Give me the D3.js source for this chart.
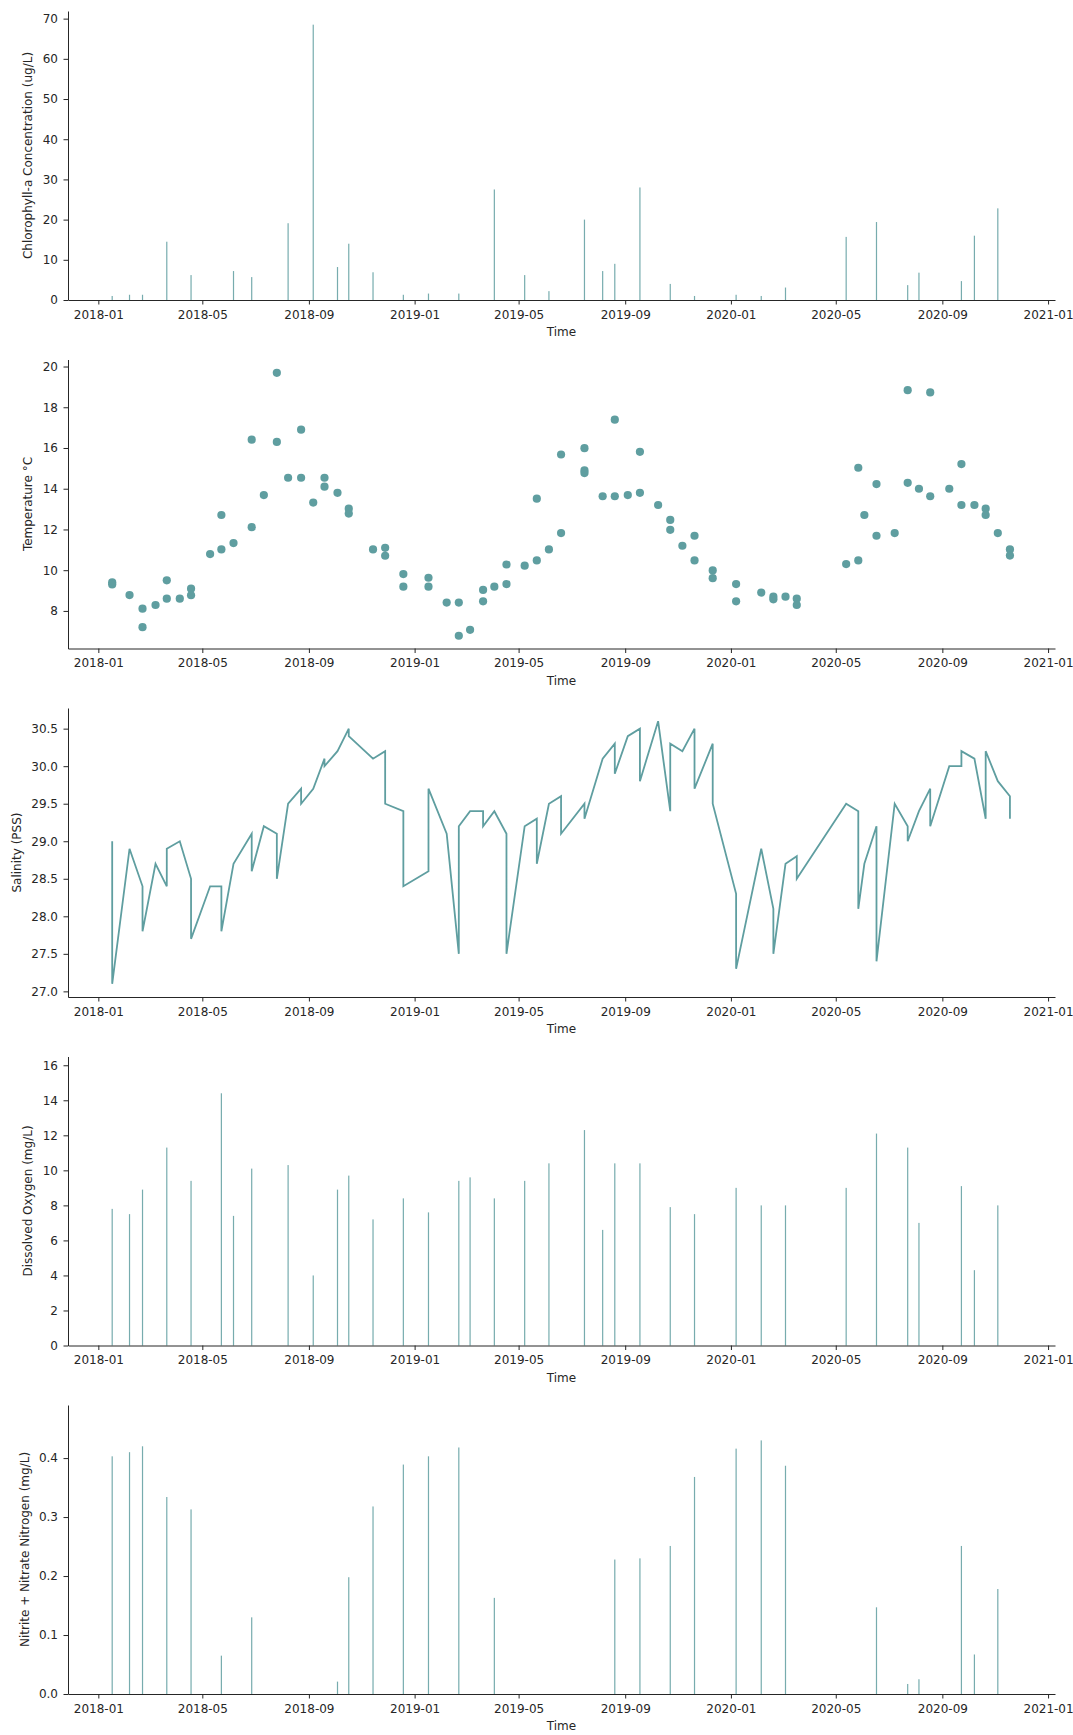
<!DOCTYPE html>
<html>
<head>
<meta charset="utf-8">
<script src="https://cdn.jsdelivr.net/npm/d3@7"></script>
<style>
  html, body { margin: 0; padding: 0; background: #fff; }
  svg { display: block; font-family: "DejaVu Sans", sans-serif; }
</style>
</head>
<body>
<svg id="chart" width="1073" height="1735"></svg>
<script>
// Water-quality monitoring series, 2018-2020

const chlDates = ["2018-01-17","2018-02-06","2018-02-21","2018-03-21","2018-04-18","2018-06-06","2018-06-27","2018-08-08","2018-09-06","2018-10-04","2018-10-17","2018-11-14","2018-12-19","2019-01-17","2019-02-21","2019-04-03","2019-05-08","2019-06-05","2019-07-16","2019-08-06","2019-08-20","2019-09-18","2019-10-23","2019-11-20","2020-01-07","2020-02-05","2020-03-04","2020-05-13","2020-06-17","2020-07-23","2020-08-05","2020-09-23","2020-10-08","2020-11-04"];
const chlValues = [1.0,1.3,1.3,14.5,6.2,7.2,5.7,19.1,68.5,8.2,14.0,6.9,1.3,1.6,1.6,27.5,6.2,2.2,20.0,7.2,9.0,28.0,4.0,1.0,1.3,1.0,3.1,15.7,19.4,3.7,6.8,4.7,16.0,22.8];

const tempDates = ["2018-01-17","2018-01-17","2018-02-06","2018-02-21","2018-02-21","2018-03-08","2018-03-21","2018-03-21","2018-04-05","2018-04-18","2018-04-18","2018-05-10","2018-05-23","2018-05-23","2018-06-06","2018-06-27","2018-06-27","2018-07-11","2018-07-26","2018-07-26","2018-08-08","2018-08-23","2018-08-23","2018-09-06","2018-09-19","2018-09-19","2018-10-04","2018-10-17","2018-10-17","2018-11-14","2018-11-28","2018-11-28","2018-12-19","2018-12-19","2019-01-17","2019-01-17","2019-02-07","2019-02-21","2019-02-21","2019-03-06","2019-03-21","2019-03-21","2019-04-03","2019-04-17","2019-04-17","2019-05-08","2019-05-22","2019-05-22","2019-06-05","2019-06-19","2019-06-19","2019-07-16","2019-07-16","2019-07-16","2019-08-06","2019-08-20","2019-08-20","2019-09-04","2019-09-18","2019-09-18","2019-10-09","2019-10-23","2019-10-23","2019-11-06","2019-11-20","2019-11-20","2019-12-11","2019-12-11","2020-01-07","2020-01-07","2020-02-05","2020-02-19","2020-02-19","2020-03-04","2020-03-17","2020-03-17","2020-05-13","2020-05-27","2020-05-27","2020-06-03","2020-06-17","2020-06-17","2020-07-08","2020-07-23","2020-07-23","2020-08-05","2020-08-18","2020-08-18","2020-09-09","2020-09-23","2020-09-23","2020-10-08","2020-10-21","2020-10-21","2020-11-04","2020-11-18","2020-11-18"];
const tempValues = [9.4,9.3,8.78,8.11,7.2,8.29,9.5,8.6,8.6,9.09,8.77,10.79,12.71,11.02,11.33,16.41,12.11,13.69,19.69,16.3,14.54,16.9,14.54,13.32,14.54,14.1,13.8,13.02,12.78,11.02,11.1,10.71,9.81,9.19,9.63,9.19,8.41,8.41,6.78,7.07,9.03,8.47,9.19,10.28,9.32,10.22,13.51,10.48,11.02,15.68,11.82,15.99,14.9,14.77,13.63,17.39,13.63,13.69,15.81,13.8,13.2,12.47,11.98,11.2,11.69,10.48,9.99,9.61,9.32,8.47,8.9,8.7,8.57,8.7,8.6,8.29,10.3,15.03,10.48,12.71,14.23,11.69,11.82,18.84,14.29,14.0,18.73,13.63,14.0,15.21,13.2,13.2,13.02,12.71,11.82,11.02,10.72];

const salDates = ["2018-01-17","2018-01-17","2018-02-06","2018-02-21","2018-02-21","2018-03-08","2018-03-21","2018-03-21","2018-04-05","2018-04-18","2018-04-18","2018-05-10","2018-05-23","2018-05-23","2018-06-06","2018-06-27","2018-06-27","2018-07-11","2018-07-26","2018-07-26","2018-08-08","2018-08-23","2018-08-23","2018-09-06","2018-09-19","2018-09-19","2018-10-04","2018-10-17","2018-10-17","2018-11-14","2018-11-28","2018-11-28","2018-12-19","2018-12-19","2019-01-17","2019-01-17","2019-02-07","2019-02-21","2019-02-21","2019-03-06","2019-03-21","2019-03-21","2019-04-03","2019-04-17","2019-04-17","2019-05-08","2019-05-22","2019-05-22","2019-06-05","2019-06-19","2019-06-19","2019-07-16","2019-07-16","2019-08-06","2019-08-20","2019-08-20","2019-09-04","2019-09-18","2019-09-18","2019-10-09","2019-10-23","2019-10-23","2019-11-06","2019-11-20","2019-11-20","2019-12-11","2019-12-11","2020-01-07","2020-01-07","2020-02-05","2020-02-19","2020-02-19","2020-03-04","2020-03-17","2020-03-17","2020-05-13","2020-05-27","2020-05-27","2020-06-03","2020-06-17","2020-06-17","2020-07-08","2020-07-23","2020-07-23","2020-08-05","2020-08-18","2020-08-18","2020-09-09","2020-09-23","2020-09-23","2020-10-08","2020-10-21","2020-10-21","2020-11-04","2020-11-18","2020-11-18"];
const salValues = [29.0,27.1,28.9,28.4,27.8,28.7,28.4,28.9,29.0,28.5,27.7,28.4,28.4,27.8,28.7,29.1,28.6,29.2,29.1,28.5,29.5,29.7,29.5,29.7,30.1,30.0,30.2,30.5,30.4,30.1,30.2,29.5,29.4,28.4,28.6,29.7,29.1,27.5,29.2,29.4,29.4,29.2,29.4,29.1,27.5,29.2,29.3,28.7,29.5,29.6,29.1,29.5,29.3,30.1,30.3,29.9,30.4,30.5,29.8,30.6,29.4,30.3,30.2,30.5,29.7,30.3,29.5,28.3,27.3,28.9,28.1,27.5,28.7,28.8,28.5,29.5,29.4,28.1,28.7,29.2,27.4,29.5,29.2,29.0,29.4,29.7,29.2,30.0,30.0,30.2,30.1,29.3,30.2,29.8,29.6,29.3];

const doDates = ["2018-01-17","2018-02-06","2018-02-21","2018-03-21","2018-04-18","2018-05-23","2018-06-06","2018-06-27","2018-08-08","2018-09-06","2018-10-04","2018-10-17","2018-11-14","2018-12-19","2019-01-17","2019-02-21","2019-03-06","2019-04-03","2019-05-08","2019-06-05","2019-07-16","2019-08-06","2019-08-20","2019-09-18","2019-10-23","2019-11-20","2020-01-07","2020-02-05","2020-03-04","2020-05-13","2020-06-17","2020-07-23","2020-08-05","2020-09-23","2020-10-08","2020-11-04"];
const doValues = [7.8,7.5,8.9,11.3,9.4,14.4,7.4,10.1,10.3,4.0,8.9,9.7,7.2,8.4,7.6,9.4,9.6,8.4,9.4,10.4,12.3,6.6,10.4,10.4,7.9,7.5,9.0,8.0,8.0,9.0,12.1,11.3,7.0,9.1,4.3,8.0];

const no3Dates = ["2018-01-17","2018-02-06","2018-02-21","2018-03-21","2018-04-18","2018-05-23","2018-06-27","2018-10-04","2018-10-17","2018-11-14","2018-12-19","2019-01-17","2019-02-21","2019-04-03","2019-08-20","2019-09-18","2019-10-23","2019-11-20","2020-01-07","2020-02-05","2020-03-04","2020-06-17","2020-07-23","2020-08-05","2020-09-23","2020-10-08","2020-11-04"];
const no3Values = [0.403,0.410,0.420,0.334,0.313,0.065,0.130,0.021,0.198,0.318,0.389,0.403,0.418,0.163,0.228,0.230,0.251,0.368,0.416,0.430,0.387,0.147,0.017,0.025,0.251,0.067,0.178];

// Axis settings
const timeDomain = ["2017-11-27", "2021-01-09"];
const yLabels = ["Chlorophyll-a Concentration (ug/L)", "Temperature °C", "Salinity (PSS)", "Dissolved Oxygen (mg/L)", "Nitrite + Nitrate Nitrogen (mg/L)"];
const yDomains = [[0, 71.9], [6.155, 20.345], [26.925, 30.775], [0, 16.5], [0, 0.49]];
const yTicks = [[0,10,20,30,40,50,60,70], [8,10,12,14,16,18,20], [27.0,27.5,28.0,28.5,29.0,29.5,30.0,30.5], [0,2,4,6,8,10,12,14,16], [0.0,0.1,0.2,0.3,0.4]];
const yFormats = ["d", "d", ".1f", "d", ".1f"];
const xLabel = "Time";

const COLOR = "#5f9ea0";
const INK = "#262626";
const parse = d3.utcParse("%Y-%m-%d");
const svg = d3.select("#chart");

const left = 68, right = 1055;
const panelTop0 = 11, panelStep = 348.5, panelH = 289;

const x = d3.scaleUtc().domain(timeDomain.map(parse)).range([left, right]);

function zip(dates, values) {
  return dates.map((d, i) => ({ date: parse(d), value: values[i] }));
}

const series = [
  { type: "bar", data: zip(chlDates, chlValues) },
  { type: "dot", data: zip(tempDates, tempValues) },
  { type: "line", data: zip(salDates, salValues) },
  { type: "bar", data: zip(doDates, doValues) },
  { type: "bar", data: zip(no3Dates, no3Values) }
];

series.forEach((s, i) => {
  const top = panelTop0 + panelStep * i;
  const bottom = top + panelH;
  const y = d3.scaleLinear().domain(yDomains[i]).range([bottom, top]);
  const g = svg.append("g");

  // marks
  if (s.type === "bar") {
    const bw = 1.2;
    g.append("g").selectAll("rect").data(s.data).join("rect")
      .attr("x", d => x(d.date) - bw / 2)
      .attr("width", bw)
      .attr("y", d => y(d.value))
      .attr("height", d => y(0) - y(d.value))
      .attr("fill", COLOR)
      .attr("fill-opacity", 0.85);
  } else if (s.type === "dot") {
    g.append("g").selectAll("circle").data(s.data).join("circle")
      .attr("cx", d => x(d.date))
      .attr("cy", d => y(d.value))
      .attr("r", 4.1)
      .attr("fill", COLOR);
  } else {
    const line = d3.line().x(d => x(d.date)).y(d => y(d.value));
    g.append("path").datum(s.data)
      .attr("d", line)
      .attr("fill", "none")
      .attr("stroke", COLOR)
      .attr("stroke-width", 1.8)
      .attr("stroke-linejoin", "miter");
  }

  // x axis
  const xa = g.append("g")
    .attr("transform", `translate(0,${bottom})`)
    .call(d3.axisBottom(x).ticks(d3.utcMonth.every(4)).tickFormat(d3.utcFormat("%Y-%m"))
      .tickSize(4.5).tickSizeOuter(0).tickPadding(5.5));

  // y axis
  const ya = g.append("g")
    .attr("transform", `translate(${left},0)`)
    .call(d3.axisLeft(y).tickValues(yTicks[i]).tickFormat(d3.format(yFormats[i]))
      .tickSize(4.5).tickSizeOuter(0).tickPadding(5.5));

  [xa, ya].forEach(a => {
    a.selectAll("text").attr("font-size", 12).attr("fill", INK).attr("font-family", "DejaVu Sans");
    a.selectAll("line").attr("stroke", INK);
    a.select(".domain").attr("stroke", INK);
  });

  // axis titles
  g.append("text")
    .attr("x", (left + right) / 2)
    .attr("y", bottom + 36)
    .attr("text-anchor", "middle")
    .attr("font-size", 12)
    .attr("fill", INK)
    .text(xLabel);

  // y title sits just left of the widest tick label
  let minX = Infinity;
  ya.selectAll(".tick text").each(function () {
    minX = Math.min(minX, this.getBBox().x);
  });
  const cx = left + minX - 14.3;
  const cy = (top + bottom) / 2;
  g.append("text")
    .attr("transform", `translate(${cx},${cy}) rotate(-90)`)
    .attr("text-anchor", "middle")
    .attr("dominant-baseline", "central")
    .attr("font-size", 12)
    .attr("fill", INK)
    .text(yLabels[i]);
});
</script>
</body>
</html>
